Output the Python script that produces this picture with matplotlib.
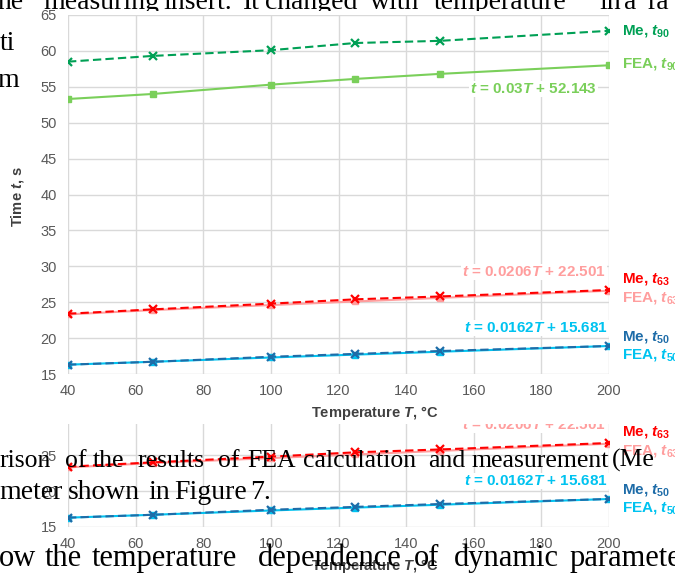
import matplotlib.pyplot as plt
from matplotlib.patches import Rectangle
from matplotlib.transforms import Bbox, TransformedBbox

plt.rcParams['font.family'] = 'Liberation Sans'
plt.rcParams['mathtext.fontset'] = 'custom'
plt.rcParams['mathtext.it'] = 'Liberation Sans:italic:bold'
plt.rcParams['mathtext.rm'] = 'Liberation Sans:bold'
plt.rcParams['mathtext.bf'] = 'Liberation Sans:bold'

# data
temps = [40, 65, 100, 125, 150, 200]
me_t90 = [58.5, 59.3, 60.1, 61.1, 61.4, 62.8]
fea_t90 = [53.3, 54.0, 55.3, 56.1, 56.8, 58.0]
me_t63 = [23.4, 24.0, 24.8, 25.4, 25.8, 26.7]
fea_t63 = [23.3, 23.9, 24.6, 25.1, 25.6, 26.6]
me_t50 = [16.3, 16.7, 17.4, 17.8, 18.2, 18.9]
fea_t50 = [16.3, 16.7, 17.3, 17.7, 18.1, 18.9]

x_ticks = [40, 60, 80, 100, 120, 140, 160, 180, 200]
y_ticks = [15, 20, 25, 30, 35, 40, 45, 50, 55, 60, 65]

labels = ['Me, $t_{90}$', 'FEA, $t_{90}$', 'Me, $t_{63}$', 'FEA, $t_{63}$',
          'Me, $t_{50}$', 'FEA, $t_{50}$']
equations = ['$t$ = 0.03$T$ + 52.143', '$t$ = 0.0206$T$ + 22.501',
             '$t$ = 0.0162$T$ + 15.681']

green_d, green_l = '#00A055', '#7ACF5A'
red_d, red_l = '#FF0000', '#FF9E9E'
blue_d, blue_l = '#1E6CA8', '#00C3F0'

# (values, colour, dashed?)
series = [
    (fea_t90, green_l, False), (me_t90, green_d, True),
    (fea_t63, red_l, False), (me_t63, red_d, True),
    (fea_t50, blue_l, False), (me_t50, blue_d, True),
]
label_pos = [62.8, 58.2, 28.2, 25.6, 20.15, 17.65]
label_col = [green_d, green_l, red_d, red_l, blue_d, blue_l]
eq_pos = [(177.7, 54.7), (177.8, 29.2), (178.4, 21.4)]
eq_col = [green_l, red_l, blue_l]

# page text around the chart: (baseline px, font size, [(word, left px), ...])
page_back = [
    (9, 20, [('he', -2), ('measuring', 43), ('insert.', 163), ('It', 243),
             ('changed', 265), ('with', 370), ('temperature', 434),
             ('in', 599), ('a', 624), ('ra', 647)]),
    (50, 20, [('ti', 0)]),
    (87, 20, [('m', -3)]),
]
page_front = [
    (467, 18.5, [('rison', 0), ('of', 65), ('the', 93), ('results', 137),
                 ('of', 218), ('FEA', 247), ('calculation', 303), ('and', 428),
                 ('measurement', 472), ('(Me', 612)]),
    (499, 20, [('meter', -1), ('shown', 68), ('in', 148), ('Figure', 174),
               ('7.', 250)]),
    (566, 22, [('ow', -1), ('the', 45), ('temperature', 92),
               ('dependence', 258), ('of', 414), ('dynamic', 454),
               ('paramete', 570)]),
]

W, H = 675, 575
fig = plt.figure(figsize=(W / 100, H / 100), dpi=100)


def draw(ax, clip=None):
    for vals, col, dashed in series:
        if dashed:
            ax.plot(temps, vals, color=col, lw=1.5, dashes=(4, 2),
                    marker='x', ms=5.5, mew=1.6)
        else:
            ax.plot(temps, vals, color=col, lw=1.5, marker='s', ms=4.5)
    ax.set_xlim(40, 200)
    ax.set_xticks(x_ticks)
    ax.grid(color='#D9D9D9', lw=1)
    ax.set_axisbelow(True)
    for sp in ax.spines.values():
        sp.set_visible(False)
    ax.tick_params(axis='both', length=0, labelsize=10.5, colors='#595959')
    ax.tick_params(axis='x', pad=7)
    ax.tick_params(axis='y', pad=8)

    texts = []
    for s, y, c in zip(labels, label_pos, label_col):
        texts.append(ax.text(203.8, y, s, color=c, fontsize=11,
                             fontweight='bold', ha='left', va='center'))
    for s, (x, y), c in zip(equations, eq_pos, eq_col):
        texts.append(ax.text(x, y, s, color=c, fontsize=11, fontweight='bold',
                             ha='center', va='center',
                             bbox=dict(facecolor='white', edgecolor='none',
                                       pad=1)))
    if clip is not None:
        for t in texts:
            t.set_clip_path(None)
            t.set_clip_box(clip)
            t.set_clip_on(True)

    ax.annotate('Temperature $T$, °C', xy=(0.5665, 0), xycoords='axes fraction',
                xytext=(0, -39), textcoords='offset pixels', ha='center',
                va='center', fontsize=10.5, fontweight='bold', color='#404040')


def page_text(lines, z):
    for base, size, words in lines:
        for w, x in words:
            fig.text(x / W, 1 - base / H, w, family='Liberation Serif',
                     fontsize=size, color='black', va='baseline', zorder=z)


page_text(page_back, -2)

fig.add_artist(Rectangle((37 / W, 1 - 423 / H), (W - 37) / W, (423 - 11) / H,
                         transform=fig.transFigure, facecolor='white',
                         edgecolor='none', zorder=-1))

ax = fig.add_axes([68 / W, 1 - 374 / H, 541 / W, 359 / H])
draw(ax)
ax.set_ylim(15, 65)
ax.set_yticks(y_ticks)
fig.text(17 / W, 1 - 197 / H, 'Time $t$, s', rotation=90, ha='center',
         va='center', fontsize=10.5, fontweight='bold', color='#404040')

# repeated lower part of the chart
clip = TransformedBbox(Bbox([[0, 0], [1, 151 / H]]), fig.transFigure)
ax2 = fig.add_axes([68 / W, 1 - 527 / H, 541 / W, 103 / H])
draw(ax2, clip)
ax2.set_ylim(15, 15 + 103 / 7.18)
ax2.set_yticks([15, 20, 25])

page_text(page_front, 5)

fig.savefig('out.png', dpi=100)
